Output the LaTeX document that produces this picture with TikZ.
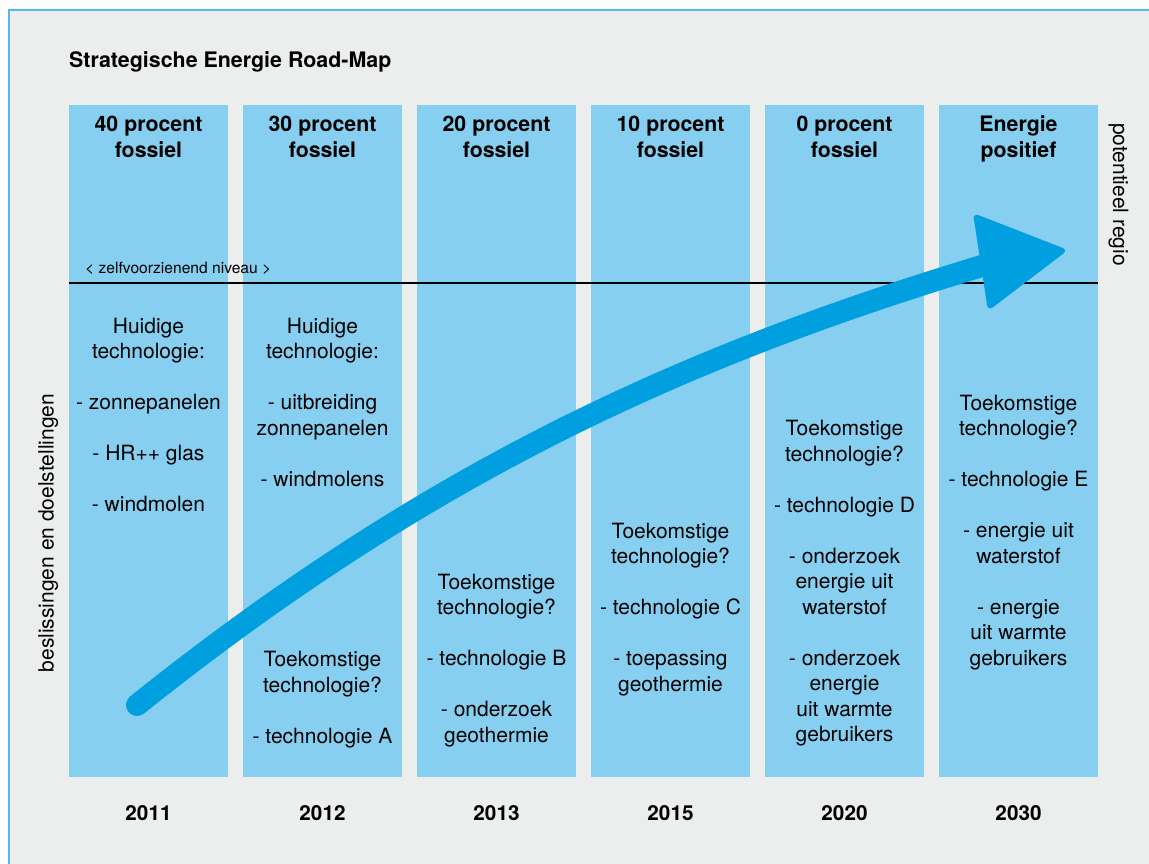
\documentclass[tikz,border=0pt]{standalone}
\usepackage{fontspec}
\setmainfont{TeX Gyre Heros}
\definecolor{bgc}{HTML}{ECEDED}
\definecolor{colblue}{HTML}{86CFF0}
\definecolor{arrowblue}{HTML}{009FE0}
\definecolor{frameblue}{HTML}{55BAE9}
\begin{document}
\begin{tikzpicture}[x=1pt,y=-1pt,
  colbox/.style={fill=colblue, draw=none, inner sep=0pt, minimum width=159pt, minimum height=672pt, anchor=north west},
  headtxt/.style={font=\fontsize{21.3}{25.5}\selectfont\bfseries, align=center, anchor=base, inner sep=0pt},
  bodytxt/.style={font=\fontsize{21}{25.5}\selectfont, align=center, anchor=base, inner sep=0pt},
  yeartxt/.style={font=\fontsize{20.7}{25}\selectfont\bfseries, anchor=base, inner sep=0pt},
  sidetxt/.style={font=\fontsize{21}{25}\selectfont, anchor=base, inner sep=0pt},
  roadarrow/.style={draw=arrowblue, line width=22pt},
]
\useasboundingbox (0,0) rectangle (1149,863);
\clip (0,0) rectangle (1149,863);
\fill[white] (0,0) rectangle (1149,863);
\draw[frameblue, line width=1.5pt, fill=bgc] (9,10) rectangle (1180,900);

% title
\node[font=\fontsize{21.4}{25}\selectfont\bfseries, anchor=base west, inner sep=0pt] (title) at (69,67) {Strategische Energie Road-Map};

% columns
\node[colbox] (c1) at (69,105) {};
\node[colbox] (c2) at (243,105) {};
\node[colbox] (c3) at (417,105) {};
\node[colbox] (c4) at (591,105) {};
\node[colbox] (c5) at (765,105) {};
\node[colbox] (c6) at (939,105) {};

% level line
\coordinate (lvlL) at (69,283);
\coordinate (lvlR) at (1098,283);
\draw[line width=2.2pt] (lvlL) -- (lvlR);
\node[font=\fontsize{15.6}{18}\selectfont, anchor=base west, inner sep=0pt] (lvltxt) at (85,273.5) {< zelfvoorzienend niveau >};

% arrow
\coordinate (arrS) at (137,705);
\coordinate (arrE) at (995,262);
\draw[roadarrow, line cap=round] (arrS) .. controls (437,465) and (695,352) .. (arrE);
\fill[arrowblue, rounded corners=6pt] (973,213) -- (1068,250) -- (988,311) -- cycle;

% headings (anchor = baseline of last line)
\node[headtxt] (h1) at (148.5,157.3) {40 procent\\fossiel};
\node[headtxt] (h2) at (322.5,157.3) {30 procent\\fossiel};
\node[headtxt] (h3) at (496.5,157.3) {20 procent\\fossiel};
\node[headtxt] (h4) at (670.5,157.3) {10 procent\\fossiel};
\node[headtxt] (h5) at (844.5,157.3) {0 procent\\fossiel};
\node[headtxt] (h6) at (1018.5,157.3) {Energie\\positief};

% bodies (anchor = baseline of last line)
\node[bodytxt] (b1) at (148.5,511.5) {Huidige\\technologie:\\[25.5pt]- zonnepanelen\\[25.5pt]- HR++ glas\\[25.5pt]- windmolen};
\node[bodytxt] (b2a) at (322.5,486) {Huidige\\technologie:\\[25.5pt]- uitbreiding\\zonnepanelen\\[25.5pt]- windmolens};
\node[bodytxt] (b2b) at (322.5,743) {Toekomstige\\technologie?\\[25.5pt]- technologie A};
\node[bodytxt] (b3) at (496.5,742) {Toekomstige\\technologie?\\[25.5pt]- technologie B\\[25.5pt]- onderzoek\\geothermie};
\node[bodytxt] (b4) at (670.5,691) {Toekomstige\\technologie?\\[25.5pt]- technologie C\\[25.5pt]- toepassing\\geothermie};
\node[bodytxt] (b5) at (844.5,741.5) {Toekomstige\\technologie?\\[25.5pt]- technologie D\\[25.5pt]- onderzoek\\energie uit\\waterstof\\[25.5pt]- onderzoek\\energie\\uit warmte\\gebruikers};
\node[bodytxt] (b6) at (1018.5,665) {Toekomstige\\technologie?\\[25.5pt]- technologie E\\[25.5pt]- energie uit\\waterstof\\[25.5pt]- energie\\uit warmte\\gebruikers};

% years
\node[yeartxt] (y1) at (148.5,820) {2011};
\node[yeartxt] (y2) at (322.5,820) {2012};
\node[yeartxt] (y3) at (496.5,820) {2013};
\node[yeartxt] (y4) at (670.5,820) {2015};
\node[yeartxt] (y5) at (844.5,820) {2020};
\node[yeartxt] (y6) at (1018.5,820) {2030};

% side labels
\node[sidetxt, rotate=90] (left) at (53.5,533) {beslissingen en doelstellingen};
\node[sidetxt, rotate=-90] (right) at (1113,194.5) {potentieel regio};
\end{tikzpicture}
\end{document}
